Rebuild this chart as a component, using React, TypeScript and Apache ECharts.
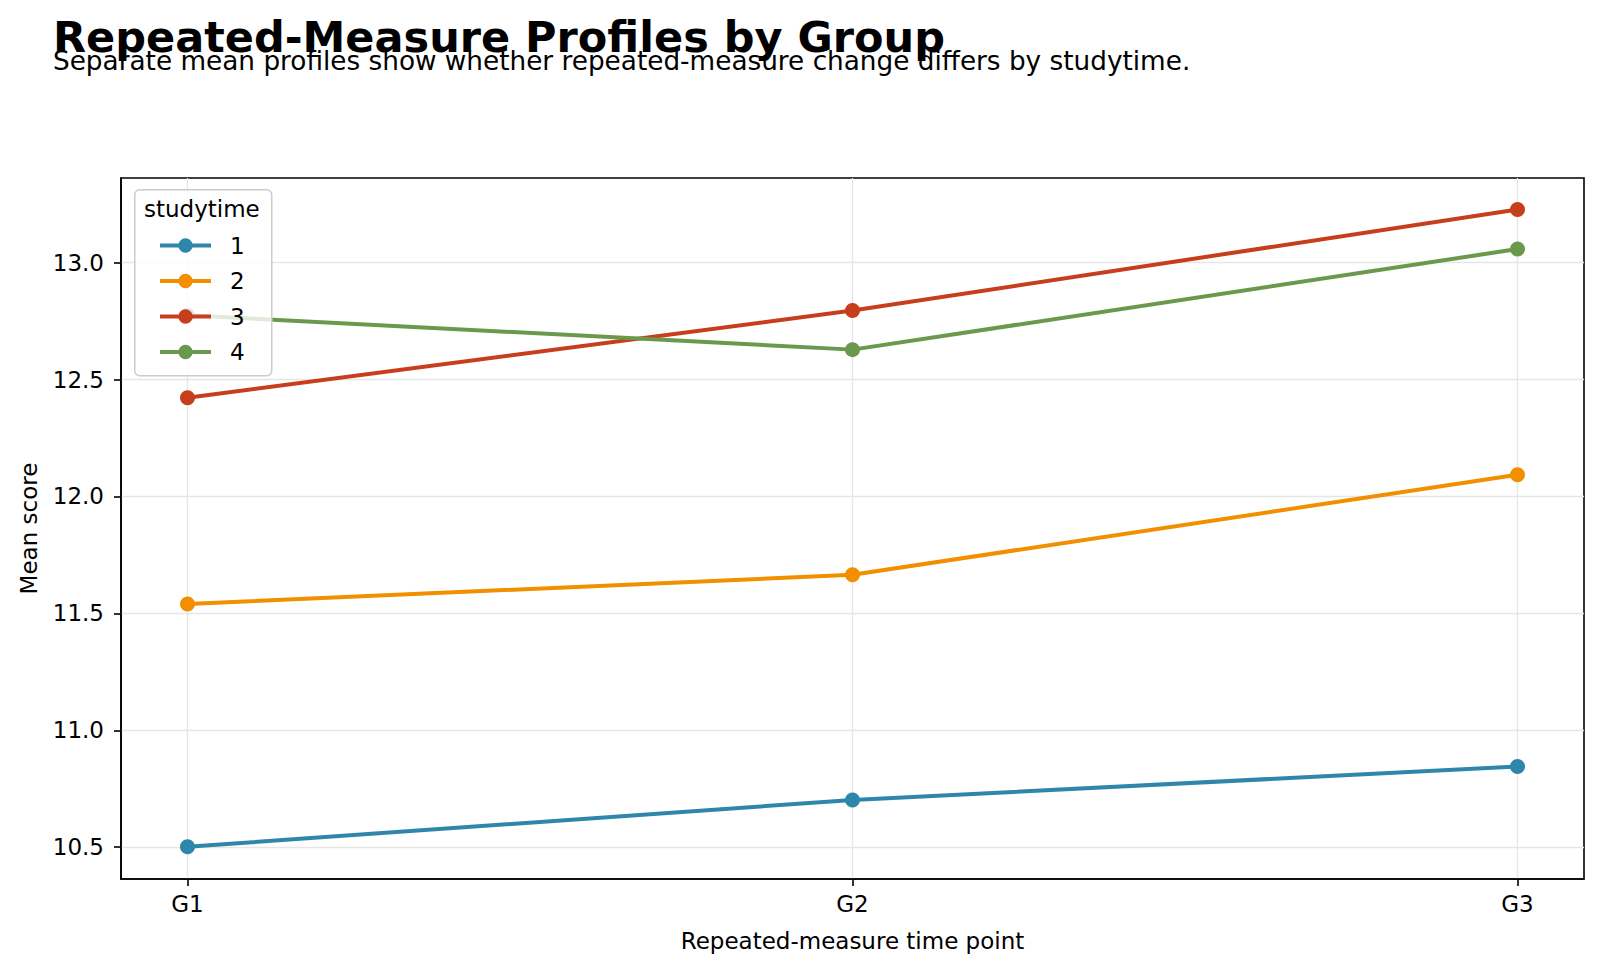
import React, { useEffect, useRef } from "react";
import * as echarts from "echarts";

const timePoints = ["G1", "G2", "G3"];
const groups = ["1", "2", "3", "4"];
const studytime1 = [10.502, 10.702, 10.845];
const studytime2 = [11.54, 11.665, 12.093];
const studytime3 = [12.422, 12.795, 13.227];
const studytime4 = [12.775, 12.628, 13.058];
const yTicks = [10.5, 11.0, 11.5, 12.0, 12.5, 13.0];
const colors = ["#2E86AB", "#F18F01", "#C73E1D", "#6A994E"];

const FONT = "DejaVu Sans";

export default function App() {
  const ref = useRef<HTMLDivElement>(null);
  useEffect(() => {
    document.body.style.margin = "0";
    const chart = echarts.init(ref.current!, null, { renderer: "svg" });
    const seriesValues = [studytime1, studytime2, studytime3, studytime4];
    const xIdx = timePoints.map((_, i) => i);
    const option: any = {
      animation: false,
      backgroundColor: "#ffffff",
      textStyle: { fontFamily: FONT },
      grid: {
        left: 121,
        right: 16,
        top: 178,
        bottom: 92,
        show: true,
        borderColor: "#000",
        borderWidth: 1.6,
        backgroundColor: "transparent",
      },
      xAxis: {
        type: "value",
        min: -0.1,
        max: 2.1,
        name: "Repeated-measure time point",
        nameLocation: "middle",
        nameGap: 50,
        nameTextStyle: { fontFamily: FONT, fontSize: 23, color: "#000" },
        axisLine: { show: true, onZero: false, lineStyle: { color: "#000", width: 1.6 } },
        axisTick: {
          show: true,
          length: 7,
          lineStyle: { color: "#000", width: 1.6 },
          customValues: xIdx,
        },
        axisLabel: {
          customValues: xIdx,
          fontFamily: FONT,
          fontSize: 23,
          color: "#000",
          margin: 13,
          formatter: (v: number) => timePoints[Math.round(v)] ?? "",
        },
        splitLine: { show: true, lineStyle: { color: "#e6e6e6", width: 1.3 } },
      },
      yAxis: {
        type: "value",
        min: 10.364,
        max: 13.362,
        name: "Mean score",
        nameLocation: "middle",
        nameGap: 81,
        nameTextStyle: { fontFamily: FONT, fontSize: 23, color: "#000" },
        axisLine: { show: true, onZero: false, lineStyle: { color: "#000", width: 1.6 } },
        axisTick: {
          show: true,
          length: 7,
          lineStyle: { color: "#000", width: 1.6 },
          customValues: yTicks,
        },
        axisLabel: {
          customValues: yTicks,
          fontFamily: FONT,
          fontSize: 23,
          color: "#000",
          margin: 17,
          formatter: (v: number) => v.toFixed(1),
        },
        splitLine: { show: true, lineStyle: { color: "#e6e6e6", width: 1.3 } },
      },
      legend: {
        orient: "vertical",
        left: 158,
        top: 234,
        itemWidth: 51,
        itemHeight: 18,
        itemGap: 12.5,
        padding: 0,
        data: groups,
        lineStyle: { width: 4 },
        textStyle: {
          fontFamily: FONT,
          fontSize: 23,
          color: "#000",
          padding: [0, 0, 0, 14],
        },
        z: 10,
      },
      title: [
        {
          text: "Repeated-Measure Profiles by Group",
          left: 53,
          top: 15,
          padding: 0,
          textStyle: { fontFamily: FONT, fontSize: 43, fontWeight: "bold", color: "#000" },
        },
        {
          text: "Separate mean profiles show whether repeated-measure change differs by studytime.",
          left: 53,
          top: 48,
          padding: 0,
          textStyle: { fontFamily: FONT, fontSize: 26.3, fontWeight: "normal", color: "#000" },
        },
      ],
      graphic: [
        {
          type: "rect",
          left: 134,
          top: 189,
          shape: { width: 137, height: 186, r: 5 },
          style: { fill: "rgba(255,255,255,0.8)", stroke: "#cccccc", lineWidth: 1.5 },
          z: 9,
        },
        {
          type: "text",
          left: 144,
          top: 197,
          style: { text: "studytime", font: `23px '${FONT}'`, fill: "#000" },
          z: 10,
        },
      ],
      series: seriesValues.map((vals, gi) => ({
        name: groups[gi],
        type: "line",
        data: vals.map((v, i) => [xIdx[i], v]),
        symbol: "circle",
        symbolSize: 15,
        lineStyle: { width: 4, color: colors[gi] },
        itemStyle: { color: colors[gi] },
        z: 3,
      })),
    };
    chart.setOption(option);
    return () => chart.dispose();
  }, []);
  return (
    <div
      ref={ref}
      style={{ position: "absolute", left: 0, top: 0, width: 1600, height: 971 }}
    />
  );
}
